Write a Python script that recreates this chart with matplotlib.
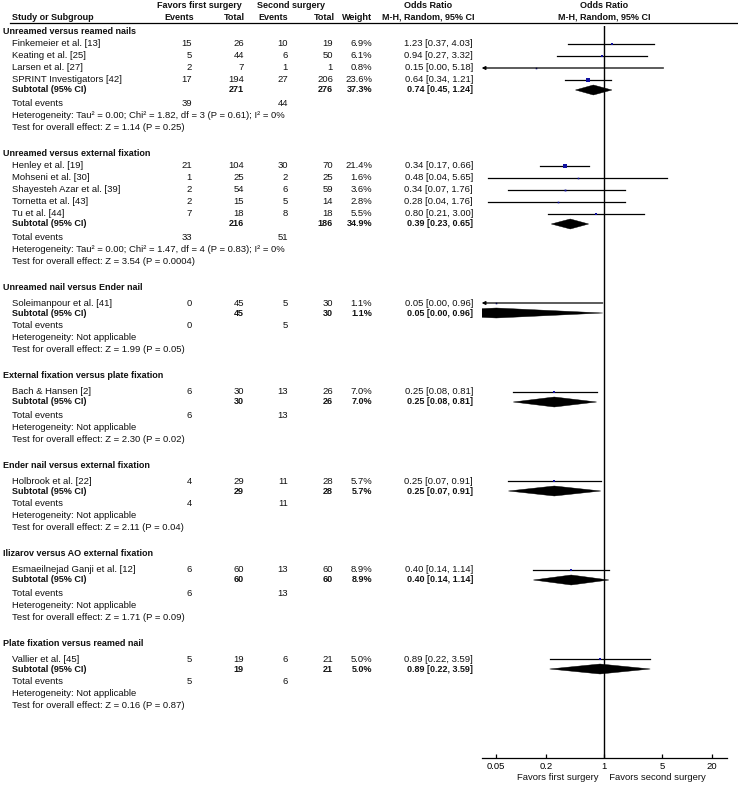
import numpy as np
import matplotlib
matplotlib.use('Agg')
import matplotlib.pyplot as plt
from matplotlib.patches import Polygon

plt.rcParams['font.family'] = ['Liberation Sans', 'DejaVu Sans']

# Данные по группам сравнения
groups = ['Unreamed versus reamed nails',
          'Unreamed versus external fixation',
          'Unreamed nail versus Ender nail',
          'External fixation versus plate fixation',
          'Ender nail versus external fixation',
          'Ilizarov versus AO external fixation',
          'Plate fixation versus reamed nail']

# Исследования (индекс группы, имя, события/всего в двух группах, вес, OR, CI)
study_group = [0, 0, 0, 0, 1, 1, 1, 1, 1, 2, 3, 4, 5, 6]
study_names = ['Finkemeier et al. [13]', 'Keating et al. [25]', 'Larsen et al. [27]',
               'SPRINT Investigators [42]', 'Henley et al. [19]', 'Mohseni et al. [30]',
               'Shayesteh Azar et al. [39]', 'Tornetta et al. [43]', 'Tu et al. [44]',
               'Soleimanpour et al. [41]', 'Bach & Hansen [2]', 'Holbrook et al. [22]',
               'Esmaeilnejad Ganji et al. [12]', 'Vallier et al. [45]']
ev1 = [15, 5, 2, 17, 21, 1, 2, 2, 7, 0, 6, 4, 6, 5]
tot1 = [26, 44, 7, 194, 104, 25, 54, 15, 18, 45, 30, 29, 60, 19]
ev2 = [10, 6, 1, 27, 30, 2, 6, 5, 8, 5, 13, 11, 13, 6]
tot2 = [19, 50, 1, 206, 70, 25, 59, 14, 18, 30, 26, 28, 60, 21]
weight = [6.9, 6.1, 0.8, 23.6, 21.4, 1.6, 3.6, 2.8, 5.5, 1.1, 7.0, 5.7, 8.9, 5.0]
odds = [1.23, 0.94, 0.15, 0.64, 0.34, 0.48, 0.34, 0.28, 0.80, 0.05, 0.25, 0.25, 0.40, 0.89]
ci_lo = [0.37, 0.27, 0.00, 0.34, 0.17, 0.04, 0.07, 0.04, 0.21, 0.00, 0.08, 0.07, 0.14, 0.22]
ci_hi = [4.03, 3.32, 5.18, 1.21, 0.66, 5.65, 1.76, 1.76, 3.00, 0.96, 0.81, 0.91, 1.14, 3.59]

# Итоги по подгруппам
sub_tot1 = [271, 216, 45, 30, 29, 60, 19]
sub_tot2 = [276, 186, 30, 26, 28, 60, 21]
sub_weight = [37.3, 34.9, 1.1, 7.0, 5.7, 8.9, 5.0]
sub_or = [0.74, 0.39, 0.05, 0.25, 0.25, 0.40, 0.89]
sub_lo = [0.45, 0.23, 0.00, 0.08, 0.07, 0.14, 0.22]
sub_hi = [1.24, 0.65, 0.96, 0.81, 0.91, 1.14, 3.59]
sub_ev1 = [39, 33, 0, 6, 4, 6, 5]
sub_ev2 = [44, 51, 5, 13, 11, 13, 6]
heterogeneity = ['Tau\u00b2 = 0.00; Chi\u00b2 = 1.82, df = 3 (P = 0.61); I\u00b2 = 0%',
                 'Tau\u00b2 = 0.00; Chi\u00b2 = 1.47, df = 4 (P = 0.83); I\u00b2 = 0%',
                 'Not applicable', 'Not applicable', 'Not applicable',
                 'Not applicable', 'Not applicable']
overall = ['Z = 1.14 (P = 0.25)', 'Z = 3.54 (P = 0.0004)', 'Z = 1.99 (P = 0.05)',
           'Z = 2.30 (P = 0.02)', 'Z = 2.11 (P = 0.04)', 'Z = 1.71 (P = 0.09)',
           'Z = 0.16 (P = 0.87)']

tick_vals = [0.05, 0.2, 1, 5, 20]
tick_labels = ['0.05', '0.2', '1', '5', '20']

# Раскладка (в пикселях)
W, H = 738, 786
fs = 6.8
fs_b = 6.5
col_ev1, col_tot1, col_ev2, col_tot2, col_w, col_ci = 192, 244, 288, 333, 372, 473
x_head, x_study = 3, 12.5
axis_y, line_top = 757.7, 26
f_left, f_right = 481.7, 726.7
xmin, xmax = 10 ** -1.477, 10 ** 1.477
blue = '#1010a0'

fig = plt.figure(figsize=(W / 100, H / 100), dpi=100)
ax = fig.add_axes([0, 0, 1, 1])
ax.set_xlim(0, W)
ax.set_ylim(H, 0)
ax.axis('off')

fax = fig.add_axes([f_left / W, (H - axis_y) / H, (f_right - f_left) / W, (axis_y - line_top) / H])
fax.set_xscale('log')
fax.set_xlim(xmin, xmax)
fax.set_ylim(axis_y, line_top)
fax.patch.set_alpha(0)
for s in ['top', 'left', 'right']:
    fax.spines[s].set_visible(False)
fax.spines['bottom'].set_linewidth(0.9)
fax.set_yticks([])
fax.set_xticks(tick_vals)
fax.set_xticklabels(tick_labels)
fax.minorticks_off()
fax.tick_params(axis='x', direction='in', length=3, width=0.9, pad=3, labelsize=fs)
fax.axvline(1, color='black', lw=1.0)


def txt(x, y, s, ha='left', bold=False):
    ax.text(x, y, s, ha=ha, va='center', fontsize=fs_b if bold else fs,
            fontweight='bold' if bold else 'normal', color='#111111')


# Заголовок
txt(157, 6, 'Favors first surgery', bold=True)
txt(257, 6, 'Second surgery', bold=True)
txt(x_study, 17, 'Study or Subgroup', bold=True)
txt(col_ev1 + 2, 17, 'Events', ha='right', bold=True)
txt(col_tot1 + 1, 17, 'Total', ha='right', bold=True)
txt(col_ev2, 17, 'Events', ha='right', bold=True)
txt(col_tot2 + 2, 17, 'Total', ha='right', bold=True)
txt(col_w, 17, 'Weight', ha='right', bold=True)
txt(428, 6, 'Odds Ratio', ha='center', bold=True)
txt(428, 17, 'M-H, Random, 95% CI', ha='center', bold=True)
fax.text(1, 6, 'Odds Ratio', ha='center', va='center', fontsize=fs_b, fontweight='bold',
         color='#111111', clip_on=False)
fax.text(1, 17, 'M-H, Random, 95% CI', ha='center', va='center', fontsize=fs_b,
         fontweight='bold', color='#111111', clip_on=False)
ax.plot([10, W], [22.7, 22.7], color='black', lw=0.9)


def diamond(y, est, lo, hi, h=5):
    if lo <= 0:
        lo = est ** 2 / hi
    poly = Polygon([[lo, y], [est, y - h], [hi, y], [est, y + h]], closed=True,
                   facecolor='black', edgecolor='black', lw=0.3)
    fax.add_patch(poly)


study_idx = np.array(study_group)
y = 31
for g, name in enumerate(groups):
    txt(x_head, y, name, bold=True)
    members = np.where(study_idx == g)[0]
    y += 13 if len(members) > 1 else 16
    for i in members:
        txt(x_study, y, study_names[i])
        txt(col_ev1, y, str(ev1[i]), ha='right')
        txt(col_tot1, y, str(tot1[i]), ha='right')
        txt(col_ev2, y, str(ev2[i]), ha='right')
        txt(col_tot2, y, str(tot2[i]), ha='right')
        txt(col_w, y, f'{weight[i]:.1f}%', ha='right')
        txt(col_ci, y, f'{odds[i]:.2f} [{ci_lo[i]:.2f}, {ci_hi[i]:.2f}]', ha='right')
        # линия доверительного интервала
        if ci_lo[i] < xmin:
            fax.annotate('', xy=(xmin, y), xytext=(ci_hi[i], y),
                         arrowprops=dict(arrowstyle='-|>', color='black', lw=0.9,
                                         mutation_scale=5, shrinkA=0, shrinkB=0))
        else:
            fax.plot([ci_lo[i], ci_hi[i]], [y, y], color='black', lw=0.9)
        side = max(1.6, 0.97 * np.sqrt(weight[i]))
        fax.plot(odds[i], y, marker='s', ms=side * 0.72, color=blue, mec=blue, mew=0)
        y += 12
    y -= 2
    txt(x_study, y, 'Subtotal (95% CI)', bold=True)
    txt(col_tot1, y, str(sub_tot1[g]), ha='right', bold=True)
    txt(col_tot2, y, str(sub_tot2[g]), ha='right', bold=True)
    txt(col_w, y, f'{sub_weight[g]:.1f}%', ha='right', bold=True)
    txt(col_ci, y, f'{sub_or[g]:.2f} [{sub_lo[g]:.2f}, {sub_hi[g]:.2f}]', ha='right', bold=True)
    diamond(y, sub_or[g], sub_lo[g], sub_hi[g])
    y += 13
    txt(x_study, y, 'Total events')
    txt(col_ev1, y, str(sub_ev1[g]), ha='right')
    txt(col_ev2, y, str(sub_ev2[g]), ha='right')
    y += 12
    txt(x_study, y, 'Heterogeneity: ' + heterogeneity[g])
    y += 12
    txt(x_study, y, 'Test for overall effect: ' + overall[g])
    y += 26

fax.text(1, 777, 'Favors first surgery  ', ha='right', va='center', fontsize=fs, color='#111111')
fax.text(1, 777, '  Favors second surgery', ha='left', va='center', fontsize=fs, color='#111111')

fig.savefig('out.png', dpi=100)
